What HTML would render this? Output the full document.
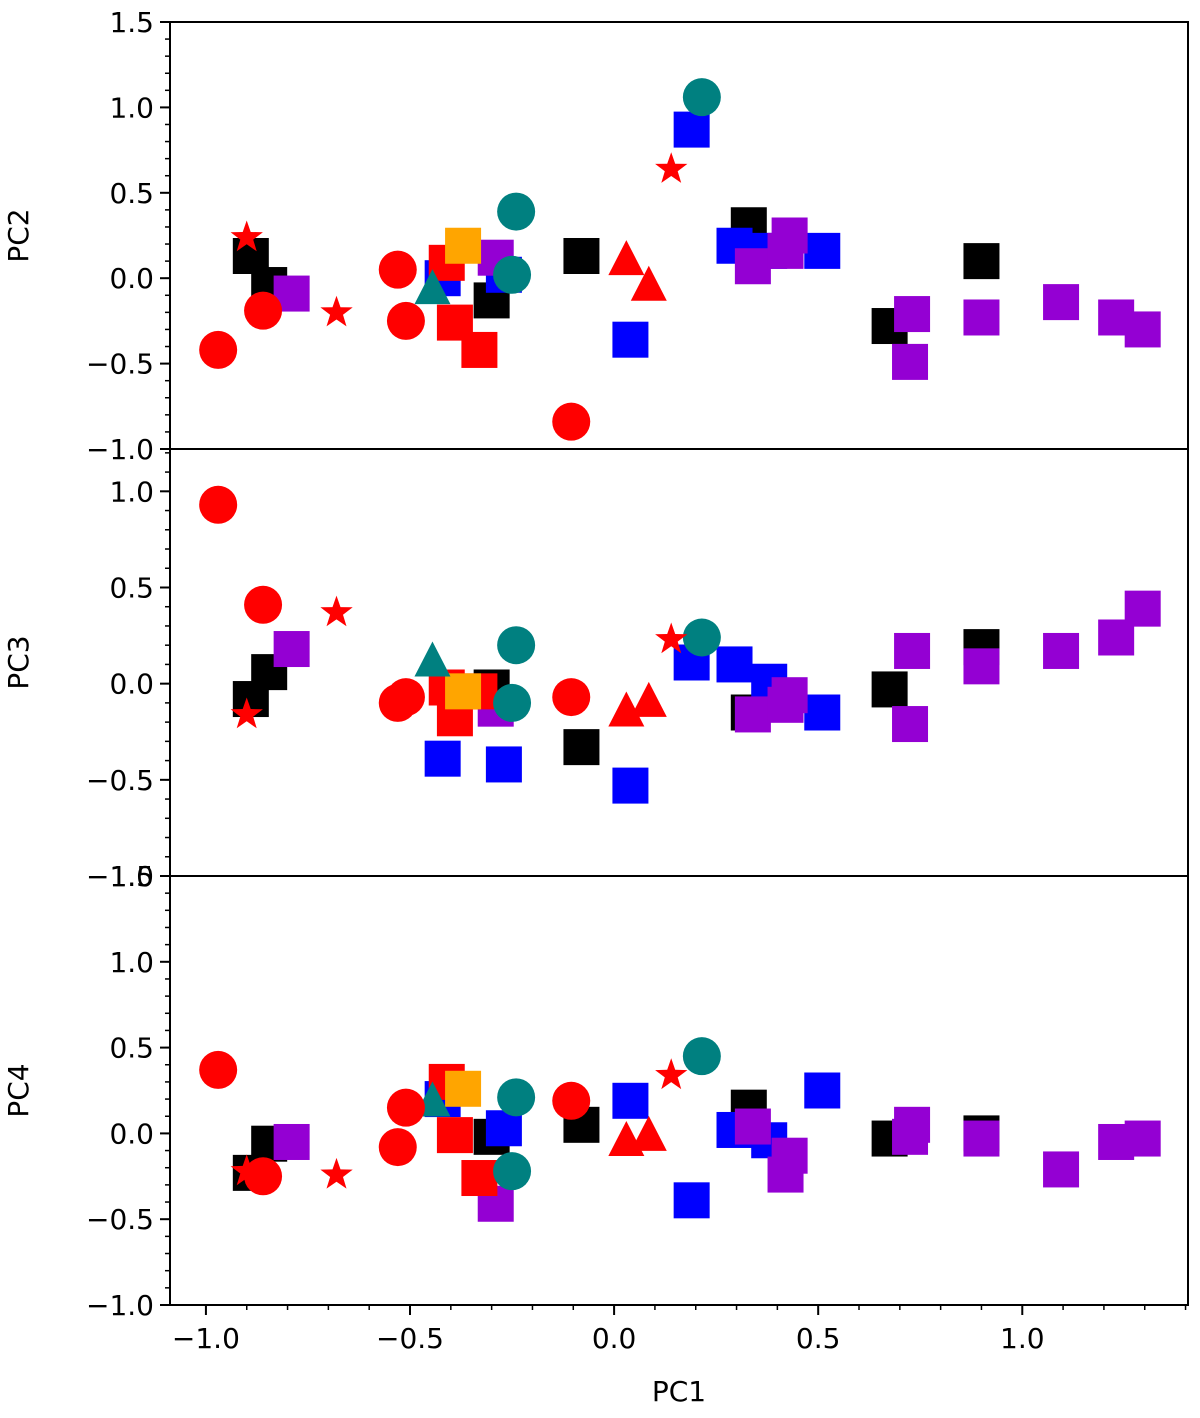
<!DOCTYPE html>
<html><head><meta charset="utf-8"><style>
body{margin:0;background:#fff}
svg{display:block;font-family:"DejaVu Sans","Liberation Sans",sans-serif}
</style></head><body>
<svg id="chart" width="1200" height="1418" viewBox="0 0 1200 1418" xmlns="http://www.w3.org/2000/svg"></svg>
<script>
// PC1 values per series, and PC2/PC3/PC4 values
const blackPC1=[-0.89,-0.845,-0.30,-0.08,0.33,0.675,0.90];
const blackPC2=[0.13,-0.04,-0.13,0.13,0.31,-0.28,0.10];
const blackPC3=[-0.08,0.06,-0.02,-0.33,-0.15,-0.03,0.19];
const blackPC4=[-0.23,-0.06,-0.02,0.05,0.15,-0.03,0.0];
const bluePC1=[-0.42,-0.27,0.04,0.19,0.295,0.38,0.51];
const bluePC2=[0.0,0.02,-0.36,0.87,0.19,0.16,0.16];
const bluePC3=[-0.39,-0.42,-0.53,0.11,0.10,0.01,-0.15];
const bluePC4=[0.20,0.03,0.19,-0.39,0.02,-0.04,0.25];
const purplePC1=[-0.79,-0.29,0.34,0.42,0.43,0.73,0.725,0.90,1.095,1.23,1.295];
const purplePC2=[-0.09,0.12,0.07,0.16,0.25,-0.21,-0.49,-0.23,-0.14,-0.23,-0.30];
const purplePC3=[0.18,-0.13,-0.16,-0.11,-0.06,0.17,-0.21,0.09,0.17,0.24,0.39];
const purplePC4=[-0.05,-0.41,0.04,-0.24,-0.13,0.05,-0.02,-0.03,-0.21,-0.05,-0.03];
const redSqPC1=[-0.41,-0.39,-0.33];
const redSqPC2=[0.09,-0.26,-0.42];
const redSqPC3=[-0.02,-0.18,-0.04];
const redSqPC4=[0.30,-0.01,-0.26];
const orangePC1=[-0.37];
const orangePC2=[0.19];
const orangePC3=[-0.04];
const orangePC4=[0.26];
const tealPC1=[-0.24,-0.25,0.215];
const tealPC2=[0.39,0.02,1.06];
const tealPC3=[0.20,-0.10,0.24];
const tealPC4=[0.21,-0.22,0.45];
const tealTriPC1=[-0.445];
const tealTriPC2=[-0.07];
const tealTriPC3=[0.11];
const tealTriPC4=[0.18];
const redCirPC1=[-0.97,-0.86,-0.53,-0.51,-0.105];
const redCirPC2=[-0.42,-0.19,0.05,-0.25,-0.84];
const redCirPC3=[0.93,0.41,-0.10,-0.07,-0.07];
const redCirPC4=[0.37,-0.25,-0.08,0.15,0.19];
const redTriPC1=[0.03,0.085];
const redTriPC2=[0.10,-0.05];
const redTriPC3=[-0.15,-0.10];
const redTriPC4=[-0.05,-0.02];
const starPC1=[-0.90,-0.68,0.14];
const starPC2=[0.25,-0.19,0.65];
const starPC3=[-0.15,0.38,0.24];
const starPC4=[-0.21,-0.23,0.35];
const xTicks=[-1.0,-0.5,0.0,0.5,1.0];
const xTickLabels=["−1.0","−0.5","0.0","0.5","1.0"];
const yTicks=[-1.0,-0.5,0.0,0.5,1.0,1.5];
const yTickLabels=["−1.0","−0.5","0.0","0.5","1.0","1.5"];

const NS="http://www.w3.org/2000/svg";
const svg=document.getElementById('chart');
function el(t,a,p){const e=document.createElementNS(NS,t);for(const k in a)e.setAttribute(k,a[k]);(p||svg).appendChild(e);return e;}
const L=170,R=1188,xmin=-1.088,xmax=1.406;
const X=v=>L+(v-xmin)/(xmax-xmin)*(R-L);
const panels=[
 {top:22,bot:449,ymin:-1.0,ymax:1.5,name:"PC2",idx:2},
 {top:449,bot:876,ymin:-1.0,ymax:1.22,name:"PC3",idx:3},
 {top:876,bot:1305,ymin:-1.0,ymax:1.5,name:"PC4",idx:4}];
const series=[
 {n:"black-squares",c:"#000",s:"sq",x:blackPC1,y:[blackPC2,blackPC3,blackPC4]},
 {n:"blue-squares",c:"#0000ff",s:"sq",x:bluePC1,y:[bluePC2,bluePC3,bluePC4]},
 {n:"purple-squares",c:"#9400d3",s:"sq",x:purplePC1,y:[purplePC2,purplePC3,purplePC4]},
 {n:"red-squares",c:"#ff0000",s:"sq",x:redSqPC1,y:[redSqPC2,redSqPC3,redSqPC4]},
 {n:"orange-square",c:"#ffa500",s:"sq",x:orangePC1,y:[orangePC2,orangePC3,orangePC4]},
 {n:"teal-circles",c:"#008080",s:"ci",x:tealPC1,y:[tealPC2,tealPC3,tealPC4]},
 {n:"teal-triangle",c:"#008080",s:"tr",x:tealTriPC1,y:[tealTriPC2,tealTriPC3,tealTriPC4]},
 {n:"red-circles",c:"#ff0000",s:"ci",x:redCirPC1,y:[redCirPC2,redCirPC3,redCirPC4]},
 {n:"red-triangles",c:"#ff0000",s:"tr",x:redTriPC1,y:[redTriPC2,redTriPC3,redTriPC4]},
 {n:"red-stars",c:"#ff0000",s:"st",x:starPC1,y:[starPC2,starPC3,starPC4]}];
function star(cx,cy,r){let p=[];for(let i=0;i<10;i++){const a=-Math.PI/2+i*Math.PI/5,rr=i%2?r*0.4:r;p.push((cx+rr*Math.cos(a)).toFixed(1)+","+(cy+rr*Math.sin(a)).toFixed(1));}return p.join(" ");}
panels.forEach((p,pi)=>{
 const Y=v=>p.bot-(v-p.ymin)/(p.ymax-p.ymin)*(p.bot-p.top);
 const g=el('g',{});
 
 
 series.forEach(s=>{
  const sg=el('g',{fill:s.c},g);
  
  
  s.x.forEach((xv,i)=>{
   const cx=X(xv),cy=Y(s.y[pi][i]);let m;
   if(s.s==="sq")m=el('rect',{x:cx-18,y:cy-18,width:36,height:36},sg);
   else if(s.s==="ci")m=el('circle',{cx:cx,cy:cy,r:19},sg);
   else if(s.s==="tr")m=el('polygon',{points:`${cx},${cy-21} ${cx+18},${cy+14} ${cx-18},${cy+14}`},sg);
   else m=el('polygon',{points:star(cx,cy+2,17)},sg);
   
   
  });
 });
 const f=el('rect',{x:L,y:p.top,width:R-L,height:p.bot-p.top,fill:'none',stroke:'#000','stroke-width':2},g);
 
 
 for(let v=Math.ceil(p.ymin*10);v<=Math.floor(p.ymax*10);v++){
  const yy=Y(v/10);
  el('line',{x1:L-5,x2:L,y1:yy,y2:yy,stroke:'#000','stroke-width':1.5},g);
 }
 yTicks.forEach((v,i)=>{
  if(v<p.ymin-1e-6||v>p.ymax+1e-6)return;
  const yy=Y(v);
  el('line',{x1:L-10,x2:L,y1:yy,y2:yy,stroke:'#000','stroke-width':2},g);
  const t=el('text',{x:L-16,y:yy+10,'text-anchor':'end','font-size':28},g);
  t.textContent=yTickLabels[i];
  
  
 });
 const yl=el('text',{x:28,y:(p.top+p.bot)/2,'text-anchor':'middle','font-size':28,transform:`rotate(-90 28 ${(p.top+p.bot)/2})`},g);
 yl.textContent=p.name;
 
 
});
const bot=1305;
for(let v=-10;v<=14;v++){const xx=X(v/10);el('line',{x1:xx,x2:xx,y1:bot,y2:bot+5,stroke:'#000','stroke-width':1.5});}
xTicks.forEach((v,i)=>{
 const xx=X(v);
 el('line',{x1:xx,x2:xx,y1:bot,y2:bot+10,stroke:'#000','stroke-width':2});
 const t=el('text',{x:xx,y:bot+43,'text-anchor':'middle','font-size':28});
 t.textContent=xTickLabels[i];
 
 
});
const xl=el('text',{x:679,y:1401,'text-anchor':'middle','font-size':28});
xl.textContent="PC1";


</script>
</body></html>
